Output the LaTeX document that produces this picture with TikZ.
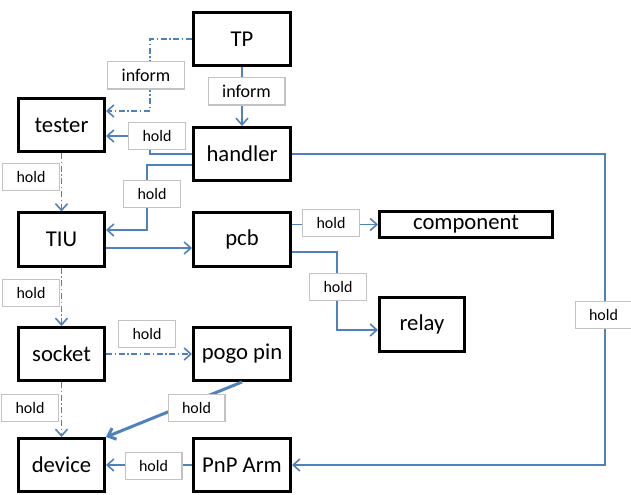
\documentclass[tikz,border=0pt]{standalone}
\usepackage{fontspec}
\setmainfont{Carlito}
\usetikzlibrary{arrows.meta}
\definecolor{linkblue}{RGB}{79,129,189}
\definecolor{tagline}{RGB}{195,195,195}

\begin{document}
\begin{tikzpicture}[
        x=0.75pt, y=-0.75pt,
        every node/.style={font=\fontsize{17}{20}\selectfont, inner sep=0pt},
        box/.style={draw, line width=2.25pt, minimum width=72.75pt, minimum height=39.75pt},
        side_box/.style={box, minimum width=64.5pt},
        tag/.style={draw=tagline, line width=1.1pt, fill=white, font=\fontsize{12}{14}\selectfont, minimum width=42.4pt, minimum height=20.6pt},
        tag_wide/.style={tag, font=\fontsize{13.5}{16}\selectfont, minimum width=57.4pt},
        link/.style={draw=linkblue, line width=1.2pt, -{Straight Barb[length=5pt,width=9pt]}},
        link_dash/.style={link, dash pattern=on 4.5pt off 2pt on 1pt off 2pt}
    ]
    \useasboundingbox (0,0) rectangle (631,495);

    % boxes
    \node[box] (TP) at (242,39) {TP};
    \node[side_box] (tester) at (61.5,125) {tester};
    \node[box] (handler) at (242,154) {handler};
    \node[side_box] (TIU) at (61.5,239.5) {TIU};
    \node[box] (pcb) at (242,239.5) {pcb};
    \node[box, minimum width=129.75pt, minimum height=19.5pt] (component) at (466,224.5) {component};
    \node[box, minimum width=63.75pt, minimum height=40.5pt] (relay) at (422,324.5) {relay};
    \node[side_box] (socket) at (61.5,354) {socket};
    \node[box] (pogo) at (242,354) {pogo pin};
    \node[side_box] (device) at (61.5,465) {device};
    \node[box] (pnp) at (242,465) {PnP Arm};

    % connectors
    \coordinate (tp_bend) at (150,111);
    \draw[link_dash] (TP.west) -| (tp_bend) -- (tester.east |- tp_bend);
    \draw[link] (TP) -- (handler);
    \coordinate (ht_bend) at (150,136);
    \draw[link] (handler.west) -| (ht_bend) -- (tester.east |- ht_bend);
    \coordinate (hu_top) at (147,165);
    \coordinate (hu_bend) at (147,230);
    \draw[link] (handler.west |- hu_top) -- (hu_top) -- (hu_bend) -- (TIU.east |- hu_bend);
    \draw[link_dash] (tester) -- (TIU);
    \draw[link] (TIU.east |- 0,248) -- (pcb.west |- 0,248);
    \draw[link] (pcb.east |- component.west) -- (component.west);
    \coordinate (pr_bend) at (337,330);
    \draw[link] (pcb.east |- 0,252) -| (pr_bend) -- (relay.west |- pr_bend);
    \draw[link_dash] (TIU) -- (socket);
    \draw[link_dash] (socket) -- (pogo);
    \draw[link_dash] (socket) -- (device);
    \draw[link, line width=2.25pt] (pogo.south) -- (device.north east);
    \draw[link] (pnp) -- (device);
    \coordinate (hp_bend) at (605,300);
    \draw[link] (handler.east) -| (hp_bend) |- (pnp.east);

    % tags
    \node[tag_wide] (inform_tester) at (146,75.5) {inform};
    \node[tag_wide] (inform_handler) at (246.5,91.5) {inform};
    \node[tag] (hold_tester) at (157,136) {hold};
    \node[tag] (hold_tiu) at (152,194) {hold};
    \node[tag] (hold_tester_tiu) at (31,177) {hold};
    \node[tag] (hold_component) at (331,223) {hold};
    \node[tag] (hold_relay) at (338,287) {hold};
    \node[tag] (hold_socket) at (31,293) {hold};
    \node[tag] (hold_pogo) at (147,334) {hold};
    \node[tag] (hold_device) at (30,408) {hold};
    \node[tag] (hold_pogo_device) at (196.5,408) {hold};
    \node[tag] (hold_pnp) at (153.5,466) {hold};
    \node[tag] (hold_pnp_arm) at (603.5,315) {hold};
\end{tikzpicture}
\end{document}
